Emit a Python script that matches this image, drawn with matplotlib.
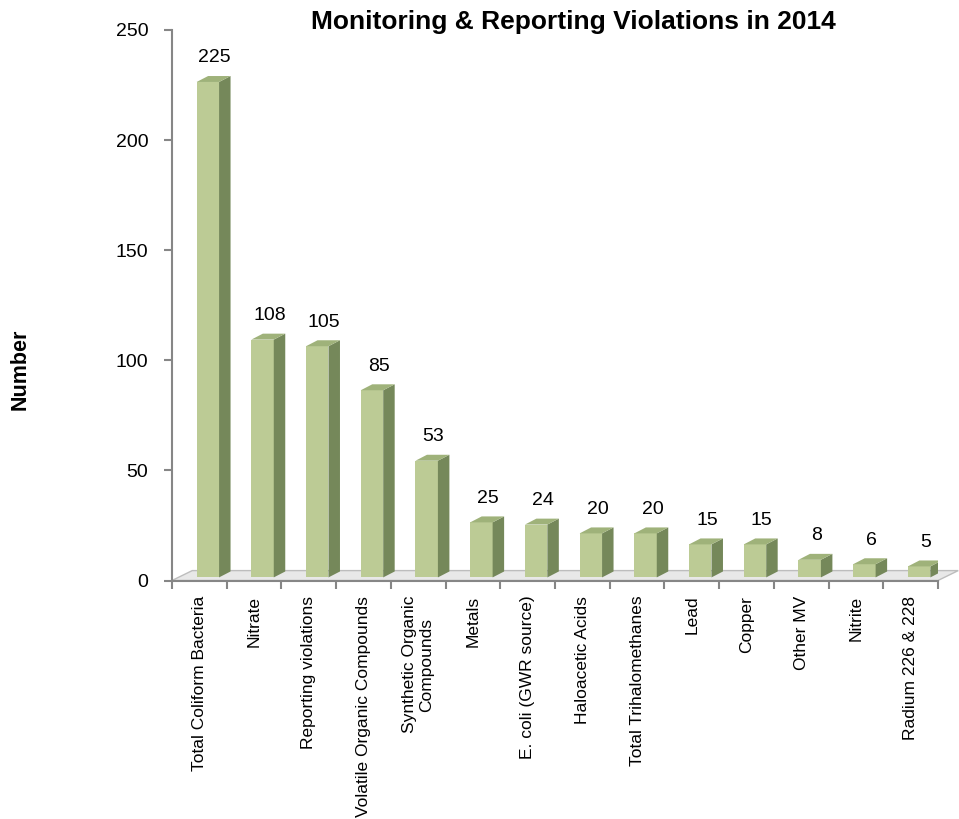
import numpy as np
import matplotlib
matplotlib.use('Agg')
import matplotlib.pyplot as plt
from matplotlib.patches import Polygon

categories = ['Total Coliform Bacteria', 'Nitrate', 'Reporting violations',
              'Volatile Organic Compounds', 'Synthetic Organic\nCompounds',
              'Metals', 'E. coli (GWR source)', 'Haloacetic Acids',
              'Total Trihalomethanes', 'Lead', 'Copper', 'Other MV',
              'Nitrite', 'Radium 226 & 228']
values = [225, 108, 105, 85, 53, 25, 24, 20, 20, 15, 15, 8, 6, 5]
yticks = [0, 50, 100, 150, 200, 250]

plt.rcParams['font.family'] = ['Liberation Sans', 'DejaVu Sans']

front_col = '#bccb95'
side_col = '#75885a'
top_col = '#9fb27a'
axis_col = '#868686'

fig = plt.figure(figsize=(9.59, 8.19), dpi=100)
ax = fig.add_axes([172 / 959, 1 - 580.5 / 819, 766 / 959, 550.5 / 819])

n = len(values)
x = np.arange(n)
base = 1.4     # bars stand a bit above the floor line
w = 0.41       # front face width
off = -0.05    # front face offset from category centre
dx, dy = 0.21, 2.7   # depth of the fake 3d

# floor
floor = Polygon([(-0.5, 0), (n - 0.5, 0), (n - 0.5 + 0.37, 4.5), (-0.5 + 0.37, 4.5)],
                closed=True, facecolor='#e8e8e8', edgecolor='#bdbdbd', lw=1,
                clip_on=False, zorder=1)
ax.add_patch(floor)

ax.bar(x + off, values, width=w, bottom=base, align='edge',
       color=front_col, edgecolor='none', zorder=3)
for xi, v in zip(x, values):
    x0 = xi + off
    x1 = x0 + w
    top = v + base
    side = Polygon([(x1, base), (x1 + dx, base + dy), (x1 + dx, top + dy), (x1, top)],
                   closed=True, facecolor=side_col, edgecolor='none', zorder=3)
    lid = Polygon([(x0, top), (x1, top), (x1 + dx, top + dy), (x0 + dx, top + dy)],
                  closed=True, facecolor=top_col, edgecolor='none', zorder=3)
    ax.add_patch(side)
    ax.add_patch(lid)
    ax.annotate(str(v), (xi + 0.28, top + dy), xytext=(0, 7), textcoords='offset points',
                ha='center', va='bottom', fontsize=14, color='black')

ax.set_xlim(-0.5, n - 0.5)
ax.set_ylim(0, 250)
ax.set_yticks(yticks)
ax.set_yticklabels([str(t) for t in yticks], fontsize=14)
ax.tick_params(axis='y', length=6, width=1.5, color=axis_col, pad=11)

ax.set_xticks(x)
ax.set_xticklabels(categories, rotation=90, fontsize=12.5,
                   ha='center', va='top', multialignment='center')
ax.tick_params(axis='x', which='major', length=0, pad=11)
ax.set_xticks(np.arange(n + 1) - 0.5, minor=True)
ax.tick_params(axis='x', which='minor', length=6, width=1.5, color=axis_col)

for s in ['top', 'right']:
    ax.spines[s].set_visible(False)
for s in ['left', 'bottom']:
    ax.spines[s].set_color(axis_col)
    ax.spines[s].set_linewidth(1.5)

fig.text(573 / 959, 1 - 22 / 819, 'Monitoring & Reporting Violations in 2014',
         ha='center', va='center', fontsize=19, fontweight='bold')
fig.text(20 / 959, 1 - 369 / 819, 'Number', rotation=90, ha='center', va='center',
         fontsize=15.5, fontweight='bold')

fig.savefig('out.png', dpi=100)
